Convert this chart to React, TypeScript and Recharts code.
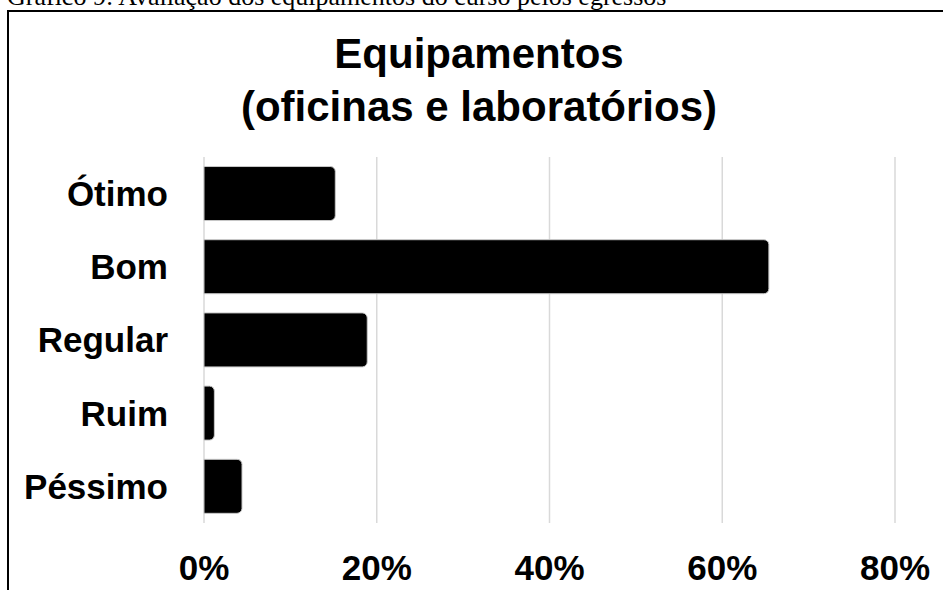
import React from 'react';
import { BarChart, Bar, XAxis, YAxis, CartesianGrid } from 'recharts';

const categories = ['Ótimo', 'Bom', 'Regular', 'Ruim', 'Péssimo'];
const percentages = [15.2, 65.4, 18.9, 1.2, 4.4];
const xTicks = [0, 20, 40, 60, 80];
const captionText = 'Gráfico 9: Avaliação dos equipamentos do curso pelos egressos';
const titleLines = ['Equipamentos', '(oficinas e laboratórios)'];

const data = categories.map((name, i) => ({ name, value: percentages[i] }));

const SANS = '"Liberation Sans", Arial, Helvetica, sans-serif';
const SERIF = '"Liberation Serif", "Times New Roman", serif';

const tickStyle = { fontSize: 35, fontWeight: 'bold' as const, fill: '#000', fontFamily: SANS };

export default function App() {
  return (
    <div style={{ position: 'absolute', left: 0, top: 0, width: 943, height: 590, overflow: 'hidden', background: '#fff' }}>
      <div
        style={{
          position: 'absolute',
          left: 7,
          top: -16,
          fontFamily: SERIF,
          fontSize: 26,
          lineHeight: '26px',
          whiteSpace: 'nowrap',
          color: '#000',
        }}
      >
        {captionText}
      </div>
      <div
        style={{
          position: 'absolute',
          left: 7,
          top: 10,
          width: 960,
          height: 620,
          borderLeft: '2px solid #000',
          borderTop: '2px solid #000',
          boxSizing: 'border-box',
        }}
      />
      <div
        style={{
          position: 'absolute',
          left: 479,
          top: 27,
          transform: 'translateX(-50%)',
          fontFamily: SANS,
          fontWeight: 'bold',
          fontSize: 42,
          lineHeight: '53px',
          textAlign: 'center',
          whiteSpace: 'nowrap',
          color: '#000',
        }}
      >
        {titleLines.map((t) => (
          <div key={t}>{t}</div>
        ))}
      </div>
      <div style={{ position: 'absolute', left: 0, top: 0 }}>
        <BarChart
          width={943}
          height={590}
          data={data}
          layout="vertical"
          margin={{ top: 157, right: 48, left: 0, bottom: 0 }}
          barCategoryGap="13%"
        >
          <CartesianGrid horizontal={false} stroke="#d9d9d9" strokeWidth={1.5} />
          <XAxis
            type="number"
            domain={[0, 80]}
            ticks={xTicks}
            interval={0}
            tickFormatter={(v: number) => `${v}%`}
            axisLine={false}
            tickLine={false}
            tickSize={0}
            tickMargin={32}
            height={67}
            tick={tickStyle}
          />
          <YAxis
            type="category"
            dataKey="name"
            width={204}
            axisLine={false}
            tickLine={false}
            tickSize={0}
            tickMargin={36}
            interval={0}
            tick={tickStyle}
          />
          <Bar
            dataKey="value"
            fill="#000"
            stroke="#c8c8c8"
            strokeWidth={1}
            radius={[0, 5, 5, 0]}
            isAnimationActive={false}
          />
        </BarChart>
      </div>
    </div>
  );
}
